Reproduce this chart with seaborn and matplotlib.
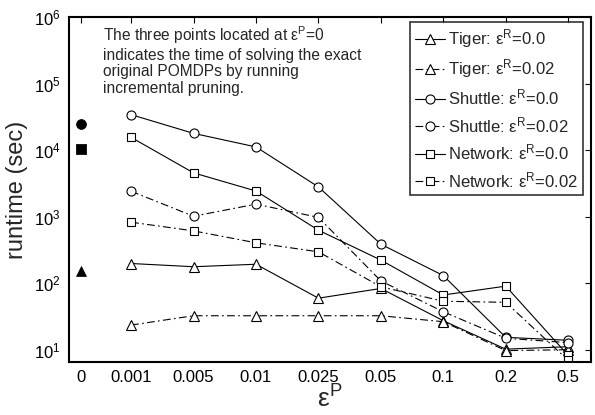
import numpy as np
import pandas as pd
import matplotlib
matplotlib.use("Agg")
import matplotlib.pyplot as plt
import seaborn as sns

# ---- data ----
eps_labels = ["0.001", "0.005", "0.01", "0.025", "0.05", "0.1", "0.2", "0.5"]
tiger_00 = [199, 178, 194, 60, 84, 27.5, 10.3, 11.2]
tiger_02 = [23.7, 32.7, 32.7, 32.7, 32.7, 26.6, 9.8, 10.1]
shuttle_00 = [34200, 17900, 11200, 2810, 388, 131, 15.5, 14.0]
shuttle_02 = [2420, 1020, 1550, 980, 109, 37.5, 15.0, 12.9]
network_00 = [15600, 4570, 2440, 630, 224, 67, 91, 8.3]
network_02 = [830, 615, 407, 298, 89, 54, 52, 7.0]
exact_labels = ["Shuttle", "Network", "Tiger"]
exact_values = [24600, 10600, 155]

series = [
    ("Tiger", "0.0", tiger_00),
    ("Tiger", "0.02", tiger_02),
    ("Shuttle", "0.0", shuttle_00),
    ("Shuttle", "0.02", shuttle_02),
    ("Network", "0.0", network_00),
    ("Network", "0.02", network_02),
]

sns.set_style("white")
plt.rcParams["font.family"] = ["Liberation Sans", "DejaVu Sans"]
plt.rcParams["mathtext.fontset"] = "custom"
plt.rcParams["mathtext.rm"] = "Liberation Sans"
plt.rcParams["mathtext.it"] = "Liberation Sans:italic"
plt.rcParams["mathtext.bf"] = "Liberation Sans:bold"
plt.rcParams["mathtext.default"] = "regular"

fig = plt.figure(figsize=(5.95, 4.15), dpi=100)
ax = fig.add_axes([69 / 595, 53 / 415, (590.7 - 69) / 595, (362 - 17) / 415])

markers = {"Tiger": "^", "Shuttle": "o", "Network": "s"}
msize = {"Tiger": 7, "Shuttle": 6.5, "Network": 5.5}
x_pos = np.arange(1, len(eps_labels) + 1)

for name, er, vals in series:
    df = pd.DataFrame({"x": x_pos, "y": vals})
    ls = "-" if er == "0.0" else (0, (7, 3, 1.5, 3))
    sns.lineplot(data=df, x="x", y="y", ax=ax, color="black", linewidth=0.8,
                 linestyle=ls, marker=markers[name], markersize=msize[name],
                 markerfacecolor="white", markeredgecolor="black",
                 markeredgewidth=0.8,
                 label="%s: ε$^{R}$=%s" % (name, er))

exact_x = 0.2
for lab, val in zip(exact_labels, exact_values):
    sns.scatterplot(x=[exact_x], y=[val], ax=ax, marker=markers[lab], s=50,
                    color="black", edgecolor="black", legend=False)

ax.set_yscale("log")
ax.set_ylim(10 ** 0.82, 1e6)
ax.set_xlim(0.006, 8.36)
ax.set_xticks([exact_x] + list(x_pos))
ax.set_xticklabels(["0"] + eps_labels)
ax.yaxis.set_minor_locator(matplotlib.ticker.NullLocator())
ax.tick_params(axis="both", which="both", direction="in", length=4, width=0.8,
               top=True, right=True, labelsize=12, pad=6, colors="black")
for sp in ax.spines.values():
    sp.set_visible(True)
    sp.set_linewidth(1.5)
    sp.set_color("black")

ax.set_xlabel("ε$^{P}$", fontsize=19, labelpad=0)
ax.set_ylabel("runtime (sec)", fontsize=17, labelpad=4)

ax.text(0.066, 0.978,
        "The three points located at ε$^{P}$=0\n"
        "indicates the time of solving the exact\n"
        "original POMDPs by running\n"
        "incremental pruning.",
        transform=ax.transAxes, fontsize=11.2, va="top", ha="left",
        linespacing=1.12)

leg = ax.legend(loc="upper right", bbox_to_anchor=(0.985, 0.985), fontsize=12,
                frameon=True, fancybox=False, edgecolor="black",
                handlelength=1.8, handletextpad=0.2, borderpad=0.3,
                labelspacing=0.45, borderaxespad=0)
leg.get_frame().set_linewidth(1.2)

fig.savefig("out.png", dpi=100)
